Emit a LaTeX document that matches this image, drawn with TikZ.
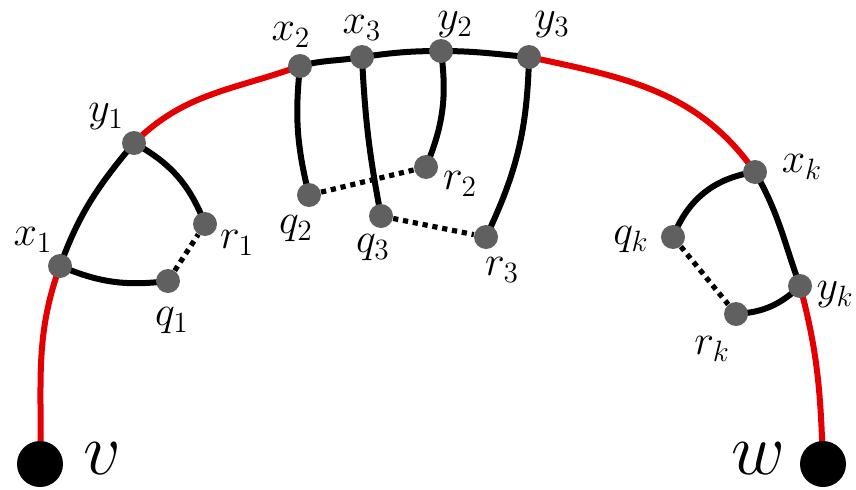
\RequirePackage{fix-cm}
\documentclass[tikz,border=0pt]{standalone}
\usepackage{amsmath}
\usetikzlibrary{backgrounds}
\definecolor{mred}{RGB}{228,0,0}
\definecolor{mgray}{RGB}{96,96,96}
\tikzset{circ/.style = {fill=mgray, circle, inner sep = 0, minimum size = 12pt}}
\tikzset{term/.style = {fill, circle, inner sep = 0, minimum size = 23pt}}
\tikzset{lbl/.style = {inner sep = 0, font=\fontsize{21}{25}\selectfont}}
\tikzset{biglbl/.style = {inner sep = 0, font=\fontsize{37}{42}\selectfont}}
\tikzset{redpath/.style = {mred, line width=3pt}}
\tikzset{blkpath/.style = {black, line width=3pt}}
\tikzset{dotpath/.style = {black, line width=2.6pt, dash pattern=on 2.6pt off 2.4pt}}

\begin{document}
\begin{tikzpicture}[x=0.5pt, y=0.5pt]
        \useasboundingbox (0,0) rectangle (856,489);
        % ends of the path
        \node[term] (v) at (40,25) {};
        \node[term] (w) at (823,25) {};
        \node[biglbl] (vl) at (102,30) {$v$};
        \node[biglbl] (wl) at (758,30) {$w$};
        % vertices on the path
        \node[circ] (x1) at (60,223) {};
        \node[circ] (y1) at (134,346) {};
        \node[circ] (x2) at (300,423) {};
        \node[circ] (x3) at (362,432) {};
        \node[circ] (y2) at (441,438) {};
        \node[circ] (y3) at (529,432) {};
        \node[circ] (xk) at (755,317) {};
        \node[circ] (yk) at (800,203) {};
        % vertices off the path
        \node[circ] (r1) at (205,265) {};
        \node[circ] (q1) at (168,208) {};
        \node[circ] (q2) at (309,294) {};
        \node[circ] (r2) at (426,322) {};
        \node[circ] (q3) at (381,273) {};
        \node[circ] (r3) at (486,252) {};
        \node[circ] (qk) at (673,252) {};
        \node[circ] (rk) at (736,175) {};
        % labels
        \node[lbl] (x1l) at (33,249) {$x_1$};
        \node[lbl] (y1l) at (106,372) {$y_1$};
        \node[lbl] (r1l) at (237,246) {$r_1$};
        \node[lbl] (q1l) at (172,168) {$q_1$};
        \node[lbl] (x2l) at (291,454) {$x_2$};
        \node[lbl] (x3l) at (362,461) {$x_3$};
        \node[lbl] (y2l) at (455,464) {$y_2$};
        \node[lbl] (y3l) at (552,464) {$y_3$};
        \node[lbl] (q2l) at (296,260) {$q_2$};
        \node[lbl] (r2l) at (460,305) {$r_2$};
        \node[lbl] (q3l) at (373,241) {$q_3$};
        \node[lbl] (r3l) at (502,219) {$r_3$};
        \node[lbl] (xkl) at (802,322) {$x_k$};
        \node[lbl] (qkl) at (631,249) {$q_k$};
        \node[lbl] (ykl) at (835,194) {$y_k$};
        \node[lbl] (rkl) at (712,140) {$r_k$};
        \begin{scope}[on background layer]
          % the path from v to w
          \draw[redpath] (v.center) to[out=88,in=-110] (x1.center);
          \draw[blkpath] (x1.center) to[out=70,in=-130] (y1.center);
          \draw[redpath] (y1.center) to[out=45,in=-160] (x2.center);
          \draw[blkpath] (x2.center) to[out=15,in=-170] (x3.center)
            to[out=8,in=180] (y2.center) to[out=0,in=175] (y3.center);
          \draw[redpath] (y3.center) to[out=-12,in=125] (xk.center);
          \draw[blkpath] (xk.center) to[out=-60,in=110] (yk.center);
          \draw[redpath] (yk.center) to[out=-75,in=92] (w.center);
          % detours
          \draw[blkpath] (y1.center) to[bend left=20] (r1.center);
          \draw[blkpath] (x1.center) to[bend right=15] (q1.center);
          \draw[blkpath] (x2.center) to[bend right=10] (q2.center);
          \draw[blkpath] (x3.center) to[bend right=4] (q3.center);
          \draw[blkpath] (y2.center) to[bend left=15] (r2.center);
          \draw[blkpath] (y3.center) to[bend left=12] (r3.center);
          \draw[blkpath] (xk.center) to[bend right=30] (qk.center);
          \draw[blkpath] (yk.center) to[bend left=20] (rk.center);
          \draw[dotpath] (q1) -- (r1);
          \draw[dotpath] (q2) -- (r2);
          \draw[dotpath] (q3) -- (r3);
          \draw[dotpath] (qk) -- (rk);
        \end{scope}
\end{tikzpicture}
\end{document}
